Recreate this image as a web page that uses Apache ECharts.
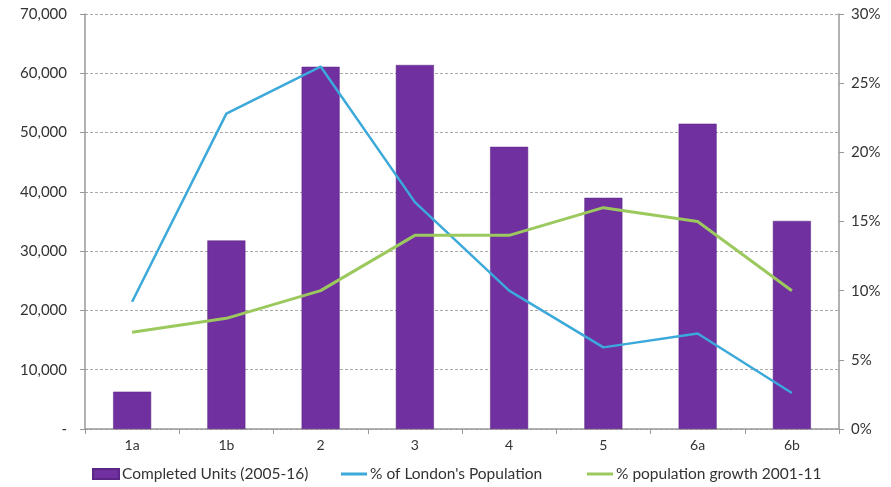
<!DOCTYPE html>
<html><head><meta charset="utf-8">
<script src="https://cdn.jsdelivr.net/npm/echarts@6/dist/echarts.min.js"></script>
<style>html,body{margin:0;padding:0;background:#fff}#c{width:891px;height:487px}</style>
</head><body><div id="c"></div>
<script>
const categories = ['1a','1b','2','3','4','5','6a','6b'];
const completedUnits = [6300, 31800, 61100, 61400, 47600, 39000, 51500, 35100];
const londonPopShare = [9.2, 22.8, 26.2, 16.4, 10.0, 5.9, 6.9, 2.6];
const popGrowth = [7.0, 8.0, 10.0, 14.0, 14.0, 16.0, 15.0, 10.0];
const seriesNames = ['Completed Units (2005-16)', "% of London's Population", '% population growth 2001-11'];

const font = 'Lato';
const chart = echarts.init(document.getElementById('c'));
const legendBase = {top: 466, itemWidth: 26, itemGap: 4, icon: 'rect', padding: 0,
  textStyle: {fontFamily: font, fontSize: 15.5, color: '#333', padding: [0, 0, 0, -2]}};
chart.setOption({
  animation: false,
  grid: {left: 85, right: 52, top: 14, bottom: 58},
  legend: [
    Object.assign({left: 92, itemHeight: 10, data: [seriesNames[0]]}, legendBase),
    Object.assign({left: 341, itemHeight: 3, data: [seriesNames[1]]}, legendBase),
    Object.assign({left: 587, itemHeight: 3, data: [seriesNames[2]]}, legendBase)
  ],
  xAxis: {
    type: 'category', data: categories,
    axisLine: {lineStyle: {color: '#999', width: 1.5}},
    axisTick: {show: true, length: 5, lineStyle: {color: '#999'}},
    axisLabel: {fontFamily: font, fontSize: 14, color: '#333', margin: 9}
  },
  yAxis: [
    {type: 'value', min: 0, max: 70000, interval: 10000,
     axisLine: {show: true, lineStyle: {color: '#999', width: 1.5}},
     axisTick: {show: true, length: 5, lineStyle: {color: '#999'}},
     splitLine: {lineStyle: {color: '#aaa', type: [3, 2], width: 1}},
     axisLabel: {fontFamily: font, fontSize: 15, color: '#333', margin: 18,
       formatter: v => v === 0 ? '-' : v.toLocaleString('en-US')}},
    {type: 'value', min: 0, max: 30, interval: 5, position: 'right',
     axisLine: {show: true, lineStyle: {color: '#999', width: 1.5}},
     axisTick: {show: true, length: 5, lineStyle: {color: '#999'}},
     splitLine: {show: false},
     axisLabel: {fontFamily: font, fontSize: 15, color: '#333', margin: 12,
       formatter: v => v + '%'}}
  ],
  series: [
    {name: seriesNames[0], type: 'bar', data: completedUnits, barWidth: 38,
     itemStyle: {color: '#7030A0', borderColor: '#5a2585', borderWidth: 0.5}},
    {name: seriesNames[1], type: 'line', yAxisIndex: 1, data: londonPopShare,
     symbol: 'none', lineStyle: {color: '#3BA9D9', width: 2.5}, itemStyle: {color: '#3BA9D9', borderWidth: 0}},
    {name: seriesNames[2], type: 'line', yAxisIndex: 1, data: popGrowth,
     symbol: 'none', lineStyle: {color: '#9CC95E', width: 3}, itemStyle: {color: '#9CC95E', borderWidth: 0}}
  ]
});
</script></body></html>
